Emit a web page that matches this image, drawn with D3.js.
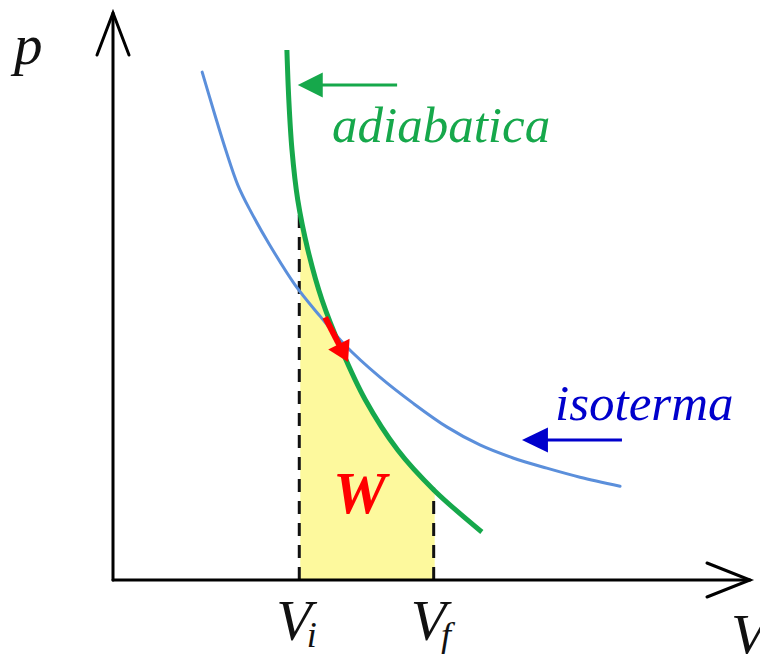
<!DOCTYPE html>
<html>
<head>
<meta charset="utf-8">
<script src="https://cdn.jsdelivr.net/npm/d3@7"></script>
<style>
  html, body { margin: 0; padding: 0; background: #ffffff; }
  svg { display: block; }
</style>
</head>
<body>
<svg id="chart" width="760" height="654"></svg>
<script>
// p–V diagram: adiabatic vs isothermal expansion, work W under the adiabat.

// Adiabatic curve samples (volume, pressure), arbitrary units 0–100
const adiabatV = [27.3, 27.6, 28.1, 29.0, 30.6, 32.8, 35.9, 39.6, 44.7, 50.4, 57.9];
const adiabatP = [93.8, 85.0, 76.1, 67.3, 58.4, 49.6, 40.7, 31.9, 23.0, 15.9, 8.5];

// Isothermal curve samples (volume, pressure)
const isoV = [14.0, 16.0, 17.7, 19.6, 21.5, 24.6, 28.6, 32.5, 36.4, 41.9, 47.1, 52.4, 57.6, 62.8, 68.1, 73.3, 79.6];
const isoP = [89.9, 82.3, 76.1, 69.9, 65.5, 59.3, 52.2, 46.7, 41.6, 35.9, 31.3, 27.1, 23.9, 21.6, 19.8, 18.2, 16.6];

// Initial and final volume of the expansion
const volumeBounds = [29.4, 50.5];
const volumeSubscripts = ["i", "f"];

// Direction-of-process arrow on the adiabat: [start, tip] as (V, p)
const processArrowV = [33.3, 36.9];
const processArrowP = [46.5, 38.6];

// Curve labels and their pointer arrows: [tail V, tip V, p]
const curveLabels = ["adiabatica", "isoterma"];
const adiabatPointer = [44.6, 29.0, 87.6];
const isoPointer = [79.9, 64.2, 24.8];

const workLabel = "W";
const axisLabels = ["p", "V"];

// ---------------------------------------------------------------
const svg = d3.select("#chart");

const x = d3.scaleLinear().domain([0, 100]).range([113, 750]);
const y = d3.scaleLinear().domain([0, 100]).range([580, 15]);

const green = "#16a84b";
const blueCurve = "#5b8fdb";
const blueText = "#0000cc";
const red = "#ff0000";
const yellow = "#fdf99d";
const serif = "'Liberation Serif', 'Times New Roman', serif";

const adiabat = adiabatV.map((v, i) => [v, adiabatP[i]]);
const isotherm = isoV.map((v, i) => [v, isoP[i]]);

// pressure on the adiabat at a given volume (linear between samples)
function adiabatAt(v) {
  for (let i = 1; i < adiabat.length; i++) {
    if (v <= adiabat[i][0]) {
      const a = adiabat[i - 1], b = adiabat[i];
      const t = (v - a[0]) / (b[0] - a[0]);
      return a[1] + t * (b[1] - a[1]);
    }
  }
  return adiabat[adiabat.length - 1][1];
}

const curve = d3.curveCatmullRom.alpha(0.5);
const line = d3.line().x(d => x(d[0])).y(d => y(d[1])).curve(curve);

// Work area under the adiabat between Vi and Vf
svg.append("clipPath").attr("id", "work-clip")
  .append("rect")
  .attr("x", x(volumeBounds[0]))
  .attr("y", 0)
  .attr("width", x(volumeBounds[1]) - x(volumeBounds[0]))
  .attr("height", y(0));

svg.append("path")
  .datum(adiabat)
  .attr("clip-path", "url(#work-clip)")
  .attr("fill", yellow)
  .attr("d", d3.area().x(d => x(d[0])).y0(y(0)).y1(d => y(d[1])).curve(curve));

// Dashed verticals at Vi and Vf
svg.selectAll(".bound")
  .data(volumeBounds)
  .join("line")
  .attr("class", "bound")
  .attr("x1", d => x(d) - 1).attr("x2", d => x(d) - 1)
  .attr("y1", y(0))
  .attr("y2", d => y(adiabatAt(d)) - 3)
  .attr("stroke", "#111")
  .attr("stroke-width", 3)
  .attr("stroke-dasharray", "13,9");

// Isotherm
svg.append("path")
  .datum(isotherm)
  .attr("fill", "none")
  .attr("stroke", blueCurve)
  .attr("stroke-width", 3)
  .attr("stroke-linecap", "round")
  .attr("d", line);

// Adiabat
svg.append("path")
  .datum(adiabat)
  .attr("fill", "none")
  .attr("stroke", green)
  .attr("stroke-width", 5)
  .attr("d", line);

// Arrow helper: shaft from tail to head base, filled triangular head
function arrow(x1, y1, x2, y2, color, width, headLen, headHalf) {
  const dx = x2 - x1, dy = y2 - y1;
  const len = Math.hypot(dx, dy);
  const ux = dx / len, uy = dy / len;
  const bx = x2 - ux * headLen, by = y2 - uy * headLen;
  svg.append("line")
    .attr("x1", x1).attr("y1", y1)
    .attr("x2", bx + ux * 2).attr("y2", by + uy * 2)
    .attr("stroke", color).attr("stroke-width", width);
  svg.append("path")
    .attr("d", `M${x2},${y2}L${bx - uy * headHalf},${by + ux * headHalf}L${bx + uy * headHalf},${by - ux * headHalf}Z`)
    .attr("fill", color);
}

// Process direction on the adiabat
arrow(x(processArrowV[0]), y(processArrowP[0]), x(processArrowV[1]), y(processArrowP[1]), red, 6, 20, 12);

// Label pointers
arrow(x(adiabatPointer[0]), y(adiabatPointer[2]), x(adiabatPointer[1]), y(adiabatPointer[2]), green, 3, 25, 12.5);
arrow(x(isoPointer[0]), y(isoPointer[2]), x(isoPointer[1]), y(isoPointer[2]), blueText, 3, 26, 12.5);

// Axes with open arrowheads
const axisG = svg.append("g")
  .attr("fill", "none").attr("stroke", "#000").attr("stroke-width", 3)
  .attr("stroke-linecap", "round").attr("stroke-linejoin", "miter");
axisG.append("line").attr("x1", x(0)).attr("y1", y(0)).attr("x2", x(100)).attr("y2", y(0));
axisG.append("line").attr("x1", x(0)).attr("y1", y(0)).attr("x2", x(0)).attr("y2", y(100) - 2);
axisG.append("path").attr("d", `M${x(100) - 43},${y(0) - 17}L${x(100)},${y(0)}L${x(100) - 43},${y(0) + 17}`);
axisG.append("path").attr("d", `M${x(0) - 16},${y(100) + 40}L${x(0)},${y(100) - 2}L${x(0) + 16},${y(100) + 40}`);

// Texts
svg.append("text")
  .attr("x", 14).attr("y", 64)
  .attr("font-family", serif).attr("font-style", "italic")
  .attr("font-size", 57).attr("fill", "#111")
  .text(axisLabels[0]);

svg.append("text")
  .attr("x", 731).attr("y", 654)
  .attr("font-family", serif).attr("font-style", "italic")
  .attr("font-size", 58).attr("fill", "#111")
  .text(axisLabels[1]);

const vLabels = svg.selectAll(".vlabel")
  .data(volumeBounds)
  .join("text")
  .attr("class", "vlabel")
  .attr("x", d => x(d) - 24)
  .attr("y", 640)
  .attr("font-family", serif).attr("font-style", "italic")
  .attr("font-size", 58).attr("fill", "#111");
vLabels.append("tspan").text("V");
vLabels.append("tspan")
  .attr("font-size", 36).attr("dx", -5).attr("dy", 7)
  .text((d, i) => volumeSubscripts[i]);

svg.append("text")
  .attr("x", 332).attr("y", 142)
  .attr("font-family", serif).attr("font-style", "italic")
  .attr("font-size", 51).attr("fill", green)
  .text(curveLabels[0]);

svg.append("text")
  .attr("x", 555).attr("y", 420)
  .attr("font-family", serif).attr("font-style", "italic")
  .attr("font-size", 51).attr("fill", blueText)
  .text(curveLabels[1]);

svg.append("text")
  .attr("x", 333).attr("y", 513)
  .attr("font-family", serif).attr("font-style", "italic").attr("font-weight", "bold")
  .attr("font-size", 60).attr("fill", red)
  .text(workLabel);
</script>
</body>
</html>
